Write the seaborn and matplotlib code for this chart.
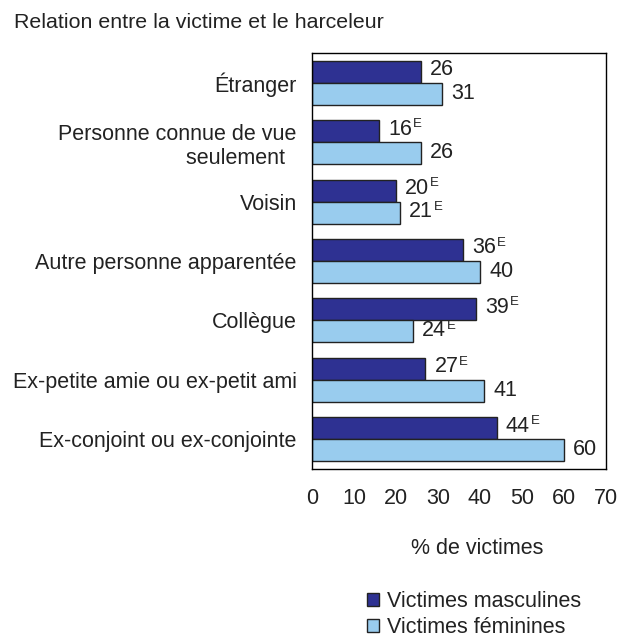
import matplotlib
matplotlib.use("Agg")
import matplotlib.pyplot as plt
import seaborn as sns
import pandas as pd
from matplotlib.patches import Patch

categories = ["Étranger", "Personne connue de vue\nseulement  ", "Voisin",
              "Autre personne apparentée", "Collègue",
              "Ex-petite amie ou ex-petit ami", "Ex-conjoint ou ex-conjointe"]
male = [26, 16, 20, 36, 39, 27, 44]
female = [31, 26, 21, 40, 24, 41, 60]
male_E = [False, True, True, True, True, True, True]
female_E = [False, False, True, False, True, False, False]
series = ["Victimes masculines", "Victimes féminines"]
colors = ["#2E3192", "#99CCEE"]

sns.set_theme(style="white")
plt.rcParams['font.family'] = ['Liberation Sans', 'DejaVu Sans']

FS = 15.5
TXT = "#222222"

df = pd.DataFrame({
    "cat": categories * 2,
    "val": male + female,
    "ser": [series[0]] * len(categories) + [series[1]] * len(categories),
})

fig = plt.figure(figsize=(6.26, 6.42), dpi=100)
ax = fig.add_axes([312/626, 1 - 469/642, (606-312)/626, (469-53)/642])
sns.barplot(data=df, y="cat", x="val", hue="ser", palette=colors, orient="h",
            width=0.74, edgecolor=TXT, linewidth=1.0, legend=False, ax=ax,
            saturation=1)
ax.set_xlim(0, 70)
ax.set_xticks(range(0, 71, 10))
ax.set_ylabel("")
ax.set_xlabel("")
ax.tick_params(axis="x", direction="in", length=7, width=1, labelsize=FS, pad=14,
               color="black", labelcolor=TXT)
ax.tick_params(axis="y", length=0, labelsize=FS, pad=11, labelcolor=TXT)
for s in ax.spines.values():
    s.set_visible(True)
    s.set_color("black")
    s.set_linewidth(1.0)

for cont, vals, flags, dy in zip(ax.containers, [male, female], [male_E, female_E], [-2.5, -3.5]):
    for bar, v, f in zip(cont, vals, flags):
        y = bar.get_y() + bar.get_height() / 2
        t = ax.annotate(f"{v}", (bar.get_width(), y), xytext=(6.5, dy), textcoords="offset points",
                        va="baseline", ha="left", fontsize=FS, color=TXT)
        if f:
            ax.annotate("E", xy=(1, 1), xycoords=t, xytext=(0.6, 0.5), textcoords="offset points",
                        va="top", ha="left", fontsize=9.5, color=TXT)

fig.text(14/626, 1 - 27.5/642, "Relation entre la victime et le harceleur", fontsize=15.4,
         va="baseline", ha="left", color=TXT)
fig.text(477/626, 1 - 548/642, "% de victimes", fontsize=FS, va="center", ha="center", color=TXT)

handles = [Patch(facecolor=c, edgecolor=TXT, label=l) for c, l in zip(colors, series)]
fig.legend(handles=handles, loc="upper left", bbox_to_anchor=(356/626, 1 - 580/642),
           frameon=False, fontsize=FS, handlelength=0.56, handleheight=0.56,
           handletextpad=0.37, labelspacing=0.25, borderpad=0, labelcolor=TXT)

fig.savefig("out.png", dpi=100)
